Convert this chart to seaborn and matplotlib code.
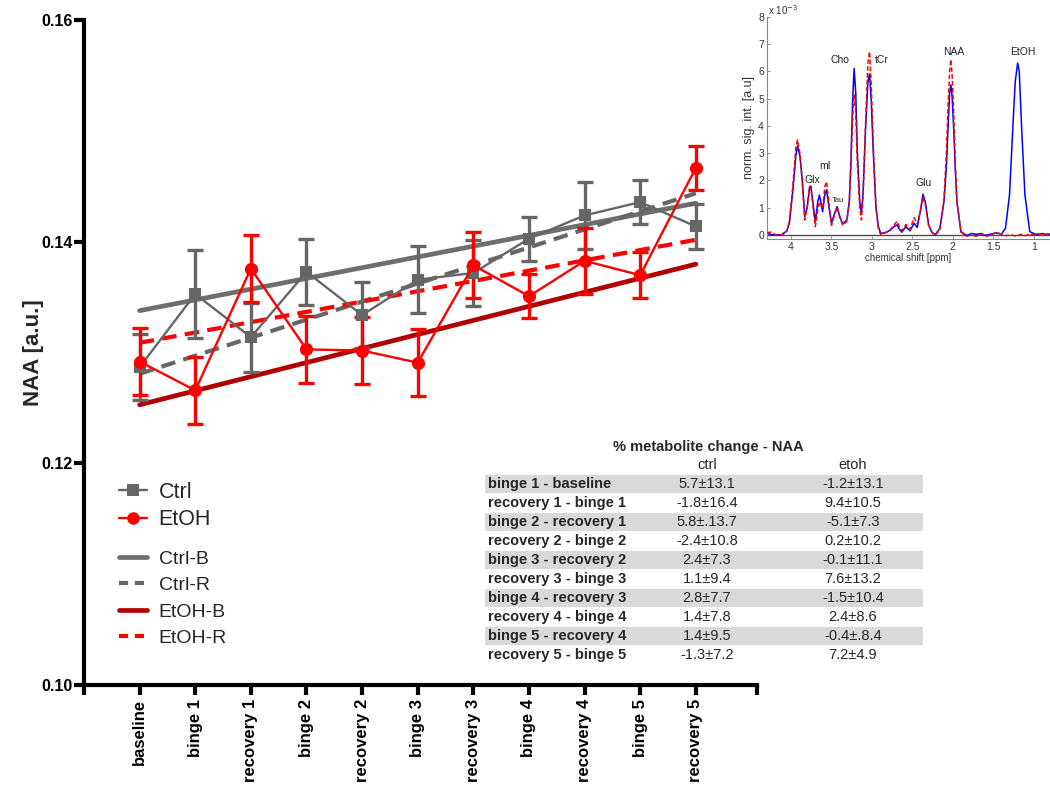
import numpy as np
import matplotlib
matplotlib.use("Agg")
import matplotlib.pyplot as plt
import seaborn as sns
from matplotlib.lines import Line2D
from matplotlib.patches import Rectangle

# ---------------- data ----------------
x_labels = ['baseline', 'binge 1', 'recovery 1', 'binge 2', 'recovery 2', 'binge 3',
            'recovery 3', 'binge 4', 'recovery 4', 'binge 5', 'recovery 5']
ctrl_mean = [0.1287, 0.1353, 0.1314, 0.1373, 0.1334, 0.1366, 0.1372, 0.1403, 0.1424, 0.1436, 0.1414]
ctrl_err = [0.0030, 0.0040, 0.0031, 0.0030, 0.0030, 0.0030, 0.0030, 0.0020, 0.0030, 0.0020, 0.0020]
etoh_mean = [0.1292, 0.1266, 0.1376, 0.1303, 0.1302, 0.1291, 0.1379, 0.1351, 0.1383, 0.1370, 0.1467]
etoh_err = [0.0030, 0.0030, 0.0030, 0.0030, 0.0030, 0.0030, 0.0030, 0.0020, 0.0030, 0.0021, 0.0020]

# regression trend lines (value at baseline and at recovery 5)
trend_idx = [0, 10]
ctrl_B = [0.1338, 0.1435]
ctrl_R = [0.1281, 0.1444]
etoh_B = [0.1253, 0.1380]
etoh_R = [0.1309, 0.1402]

y_ticks = [0.10, 0.12, 0.14, 0.16]

# table
table_title = '% metabolite change - NAA'
table_cols = ['ctrl', 'etoh']
row_labels = ['binge 1 - baseline', 'recovery 1 - binge 1', 'binge 2 - recovery 1',
              'recovery 2 - binge 2', 'binge 3 - recovery 2', 'recovery 3 - binge 3',
              'binge 4 - recovery 3', 'recovery 4 - binge 4', 'binge 5 - recovery 4',
              'recovery 5 - binge 5']
ctrl_change = ['5.7±13.1', '-1.8±16.4', '5.8±.13.7', '-2.4±10.8', '2.4±7.3',
               '1.1±9.4', '2.8±7.7', '1.4±7.8', '1.4±9.5', '-1.3±7.2']
etoh_change = ['-1.2±13.1', '9.4±10.5', '-5.1±7.3', '0.2±10.2', '-0.1±11.1',
               '7.6±13.2', '-1.5±10.4', '2.4±8.6', '-0.4±.8.4', '7.2±4.9']

# inset spectrum, x 10^-3
ppm_blue = [4.30, 4.22, 4.12, 4.05, 4.02, 3.98, 3.94, 3.92, 3.89, 3.86, 3.83, 3.80, 3.77, 3.755,
            3.73, 3.70, 3.67, 3.65, 3.63, 3.61, 3.58, 3.56, 3.53, 3.50, 3.46, 3.43, 3.40, 3.36,
            3.31, 3.28, 3.26, 3.24, 3.22, 3.20, 3.18, 3.15, 3.13, 3.11, 3.08, 3.05, 3.03, 3.01,
            2.98, 2.95, 2.92, 2.89, 2.82, 2.77, 2.73, 2.69, 2.66, 2.63, 2.58, 2.53, 2.48, 2.44,
            2.40, 2.37, 2.34, 2.30, 2.26, 2.22, 2.16, 2.11, 2.08, 2.06, 2.04, 2.025, 2.01, 1.99,
            1.97, 1.95, 1.90, 1.83, 1.77, 1.71, 1.65, 1.60, 1.53, 1.46, 1.40, 1.35, 1.30, 1.26,
            1.23, 1.20, 1.18, 1.15, 1.11, 1.05, 1.00, 0.95, 0.90, 0.85, 0.80]
int_blue = [0.05, 0.0, 0.0, 0.15, 0.43, 1.53, 2.9, 3.26, 2.9, 2.0, 0.67, 1.0, 1.75, 1.79,
            1.2, 0.49, 1.2, 1.46, 1.2, 0.85, 1.5, 1.65, 1.0, 0.43, 0.8, 1.04, 0.7, 0.40,
            0.55, 1.2, 2.64, 4.8, 6.1, 5.2, 3.0, 1.2, 0.8, 1.5, 3.8, 5.6, 5.9, 5.0,
            2.8, 1.0, 0.3, 0.05, 0.1, 0.18, 0.3, 0.37, 0.2, 0.1, 0.3, 0.15, 0.43, 0.27,
            0.9, 1.49, 1.2, 0.37, 0.1, 0.0, 0.24, 1.22, 2.5, 3.9, 5.2, 5.5, 5.1, 3.9,
            2.4, 1.22, 0.12, -0.02, 0.05, 0.02, 0.05, -0.02, 0.03, 0.07, 0.03, 0.24, 1.47, 3.9,
            5.6, 6.3, 6.0, 3.9, 1.47, 0.12, 0.05, 0.0, 0.05, 0.02, 0.03]
ppm_red = [4.30, 4.25, 4.18, 4.10, 4.05, 4.02, 3.98, 3.94, 3.92, 3.89, 3.86, 3.83, 3.80, 3.77,
           3.755, 3.73, 3.70, 3.67, 3.65, 3.63, 3.61, 3.58, 3.56, 3.53, 3.50, 3.46, 3.43, 3.40,
           3.36, 3.31, 3.28, 3.26, 3.24, 3.22, 3.20, 3.18, 3.15, 3.13, 3.11, 3.08, 3.05, 3.03,
           3.01, 2.98, 2.95, 2.92, 2.89, 2.82, 2.77, 2.73, 2.69, 2.66, 2.63, 2.58, 2.53, 2.48,
           2.44, 2.40, 2.37, 2.34, 2.30, 2.26, 2.22, 2.16, 2.11, 2.08, 2.06, 2.04, 2.025, 2.01,
           1.99, 1.97, 1.95, 1.90, 1.83, 1.77, 1.71, 1.65, 1.60, 1.53, 1.46, 1.40, 1.35, 1.28,
           1.22, 1.16, 1.10, 1.05, 1.00, 0.95, 0.90, 0.85, 0.80]
int_red = [0.08, 0.1, -0.02, 0.0, 0.15, 0.5, 1.7, 3.2, 3.48, 3.0, 1.9, 0.55, 1.0, 1.75,
           1.75, 1.1, 0.30, 0.9, 1.2, 1.1, 0.95, 1.8, 1.95, 1.1, 0.35, 0.75, 1.0, 0.65,
           0.35, 0.5, 1.2, 2.5, 4.2, 5.15, 4.5, 2.6, 1.0, 0.55, 1.4, 4.0, 6.3, 6.72,
           5.6, 3.0, 1.0, 0.2, 0.0, 0.1, 0.2, 0.35, 0.5, 0.3, 0.15, 0.38, 0.2, 0.63,
           0.4, 0.9, 1.37, 1.1, 0.35, 0.1, -0.02, 0.2, 1.3, 3.0, 4.7, 6.0, 6.43, 5.9,
           4.5, 2.6, 1.2, 0.1, -0.05, 0.0, -0.05, 0.02, -0.06, 0.0, 0.1, 0.02, -0.03, 0.0,
           -0.05, 0.02, -0.03, 0.05, 0.0, 0.05, -0.02, 0.03, 0.0]
peak_names = ['Cho', 'tCr', 'NAA', 'EtOH', 'Glx', 'mI', 'Glu', 'Tau']
peak_ppm = [3.39, 2.88, 1.99, 1.13, 3.73, 3.58, 2.36, 3.42]
peak_val = [6.41, 6.41, 6.72, 6.72, 2.01, 2.53, 1.92, 1.25]
inset_xticks = [4, 3.5, 3, 2.5, 2, 1.5, 1]
inset_yticks = [0, 1, 2, 3, 4, 5, 6, 7, 8]

# ---------------- style ----------------
sns.set_theme(style='ticks')
plt.rcParams['font.family'] = ['Liberation Sans', 'DejaVu Sans']

GRAY = '#666666'
GRAY_B = '#6e6e6e'
RED = '#ff0000'
DARKRED = '#b00000'

fig = plt.figure(figsize=(10.5, 7.87), dpi=100)
fig.patch.set_facecolor('white')

# ---------------- main axes ----------------
ax = fig.add_axes([0.08, 0.1296, 0.641, 0.8444])
ax.set_facecolor('white')
x = np.arange(len(x_labels))

sns.lineplot(x=trend_idx, y=ctrl_B, ax=ax, color=GRAY_B, linewidth=3.4, zorder=2)
sns.lineplot(x=trend_idx, y=ctrl_R, ax=ax, color=GRAY, linewidth=3.0, linestyle=(0, (3.5, 2)), zorder=2)
sns.lineplot(x=trend_idx, y=etoh_B, ax=ax, color=DARKRED, linewidth=3.4, zorder=2)
sns.lineplot(x=trend_idx, y=etoh_R, ax=ax, color=RED, linewidth=3.0, linestyle=(0, (3.5, 2)), zorder=2)

ax.errorbar(x, ctrl_mean, yerr=ctrl_err, fmt='none', ecolor=GRAY, elinewidth=2.4,
            capsize=5.5, capthick=2.4, zorder=3)
ax.errorbar(x, etoh_mean, yerr=etoh_err, fmt='none', ecolor=RED, elinewidth=2.4,
            capsize=5.5, capthick=2.4, zorder=3)
sns.lineplot(x=x, y=ctrl_mean, ax=ax, color=GRAY, linewidth=1.7, marker='s',
             markersize=9, markeredgewidth=0, zorder=4)
sns.lineplot(x=x, y=etoh_mean, ax=ax, color=RED, linewidth=1.7, marker='o',
             markersize=9.5, markeredgewidth=0, zorder=4)

ax.set_xlim(-1, 11.1)
ax.set_ylim(0.10, 0.16)
ax.set_xticks(x)
ax.set_xticks([-1, 11.1], minor=True)
ax.set_xticklabels(x_labels, rotation=90, fontsize=12, fontweight='bold')
ax.set_yticks(y_ticks)
ax.set_yticklabels([f'{v:.2f}' for v in y_ticks], fontsize=11.5, fontweight='bold')
ax.tick_params(axis='both', which='both', direction='out', length=7, width=3,
               color='black', labelcolor='black')
ax.tick_params(axis='y', pad=1)
ax.tick_params(axis='x', pad=3)
for s in ['top', 'right']:
    ax.spines[s].set_visible(False)
for s in ['left', 'bottom']:
    ax.spines[s].set_linewidth(3)
    ax.spines[s].set_color('black')
ax.set_xlabel('')
ax.set_ylabel('NAA [a.u.]', fontsize=16, fontweight='bold')
ax.yaxis.set_label_coords(-0.060, 0.5)
ax.grid(False)

# legends
h1 = [Line2D([], [], color=GRAY, lw=1.7, marker='s', ms=8, mew=0),
      Line2D([], [], color=RED, lw=1.7, marker='o', ms=9, mew=0)]
leg1 = fig.legend(h1, ['Ctrl', 'EtOH'], loc='upper left',
                  bbox_to_anchor=(0.113, 1 - 482 / 787), bbox_transform=fig.transFigure,
                  frameon=False, fontsize=15.5, handlelength=1.3, handletextpad=0.55,
                  labelspacing=0.3, borderpad=0, borderaxespad=0)
h2 = [Line2D([], [], color=GRAY_B, lw=3.4),
      Line2D([], [], color=GRAY, lw=3.0, ls=(0, (2.2, 1.6))),
      Line2D([], [], color=DARKRED, lw=3.4),
      Line2D([], [], color=RED, lw=3.0, ls=(0, (2.2, 1.6)))]
leg2 = fig.legend(h2, ['Ctrl-B', 'Ctrl-R', 'EtOH-B', 'EtOH-R'], loc='upper left',
                  bbox_to_anchor=(0.113, 1 - 550 / 787), bbox_transform=fig.transFigure,
                  frameon=False, fontsize=14, handlelength=1.45, handletextpad=0.6,
                  labelspacing=0.46, borderpad=0, borderaxespad=0)

# ---------------- table ----------------
tax = fig.add_axes([480 / 1050, 1 - 665 / 787, 450 / 1050, (665 - 432) / 787])
tax.set_xlim(480, 930)
tax.set_ylim(665, 432)
tax.axis('off')
tax.text(708, 447, table_title, ha='center', va='center', fontsize=10.5, fontweight='bold')
tax.text(707, 465, table_cols[0], ha='center', va='center', fontsize=10.5)
tax.text(853, 465, table_cols[1], ha='center', va='center', fontsize=10.5)
for i, (lab, c, e) in enumerate(zip(row_labels, ctrl_change, etoh_change)):
    yc = 483.8 + 19.0 * i
    if i % 2 == 0:
        tax.add_patch(Rectangle((485, yc - 9.0), 438, 18.0, facecolor='#d9d9d9',
                                edgecolor='none', zorder=0))
    tax.text(488, yc, lab, ha='left', va='center', fontsize=10.5, fontweight='bold', zorder=2)
    tax.text(707, yc, c, ha='center', va='center', fontsize=10.5, zorder=2)
    tax.text(853, yc, e, ha='center', va='center', fontsize=10.5, zorder=2)

# ---------------- inset spectrum ----------------
axi = fig.add_axes([0.7302, 0.696, 0.2698, 0.2828])
axi.set_facecolor('white')
axi.axhline(0, color='#4d4d4d', lw=1.0, zorder=1)
sns.lineplot(x=ppm_blue, y=int_blue, ax=axi, color='#0000ff', linewidth=1.1,
             sort=False, zorder=2)
sns.lineplot(x=ppm_red, y=int_red, ax=axi, color=RED, linewidth=1.1, sort=False,
             linestyle=(0, (3, 1.5)), zorder=3)
axi.set_xlim(4.3, 0.8)
axi.set_ylim(-0.16, 8)
axi.set_xticks(inset_xticks)
axi.set_xticklabels([f'{v:g}' for v in inset_xticks])
axi.set_yticks(inset_yticks)
axi.tick_params(axis='both', direction='in', length=2.5, width=0.6, labelsize=7.5,
                color='#777777', labelcolor='#333333', pad=2)
for s in ['top', 'right']:
    axi.spines[s].set_visible(False)
for s in ['left', 'bottom']:
    axi.spines[s].set_linewidth(0.8)
    axi.spines[s].set_color('#888888')
axi.set_xlabel('chemical shift [ppm]', fontsize=7, color='#333333', labelpad=1)
axi.set_ylabel('norm. sig. int. [a.u]', fontsize=9, color='#333333', labelpad=2)
axi.grid(False)
axi.text(0.005, 1.0, r'x 10$^{-3}$', transform=axi.transAxes, fontsize=7,
         color='#333333', ha='left', va='bottom')
for name, px, pv in zip(peak_names, peak_ppm, peak_val):
    axi.text(px, pv, name, ha='center', va='center',
             fontsize=5.5 if name == 'Tau' else 7.5, color='#222222')

fig.savefig('out.png', dpi=100, facecolor='white')
